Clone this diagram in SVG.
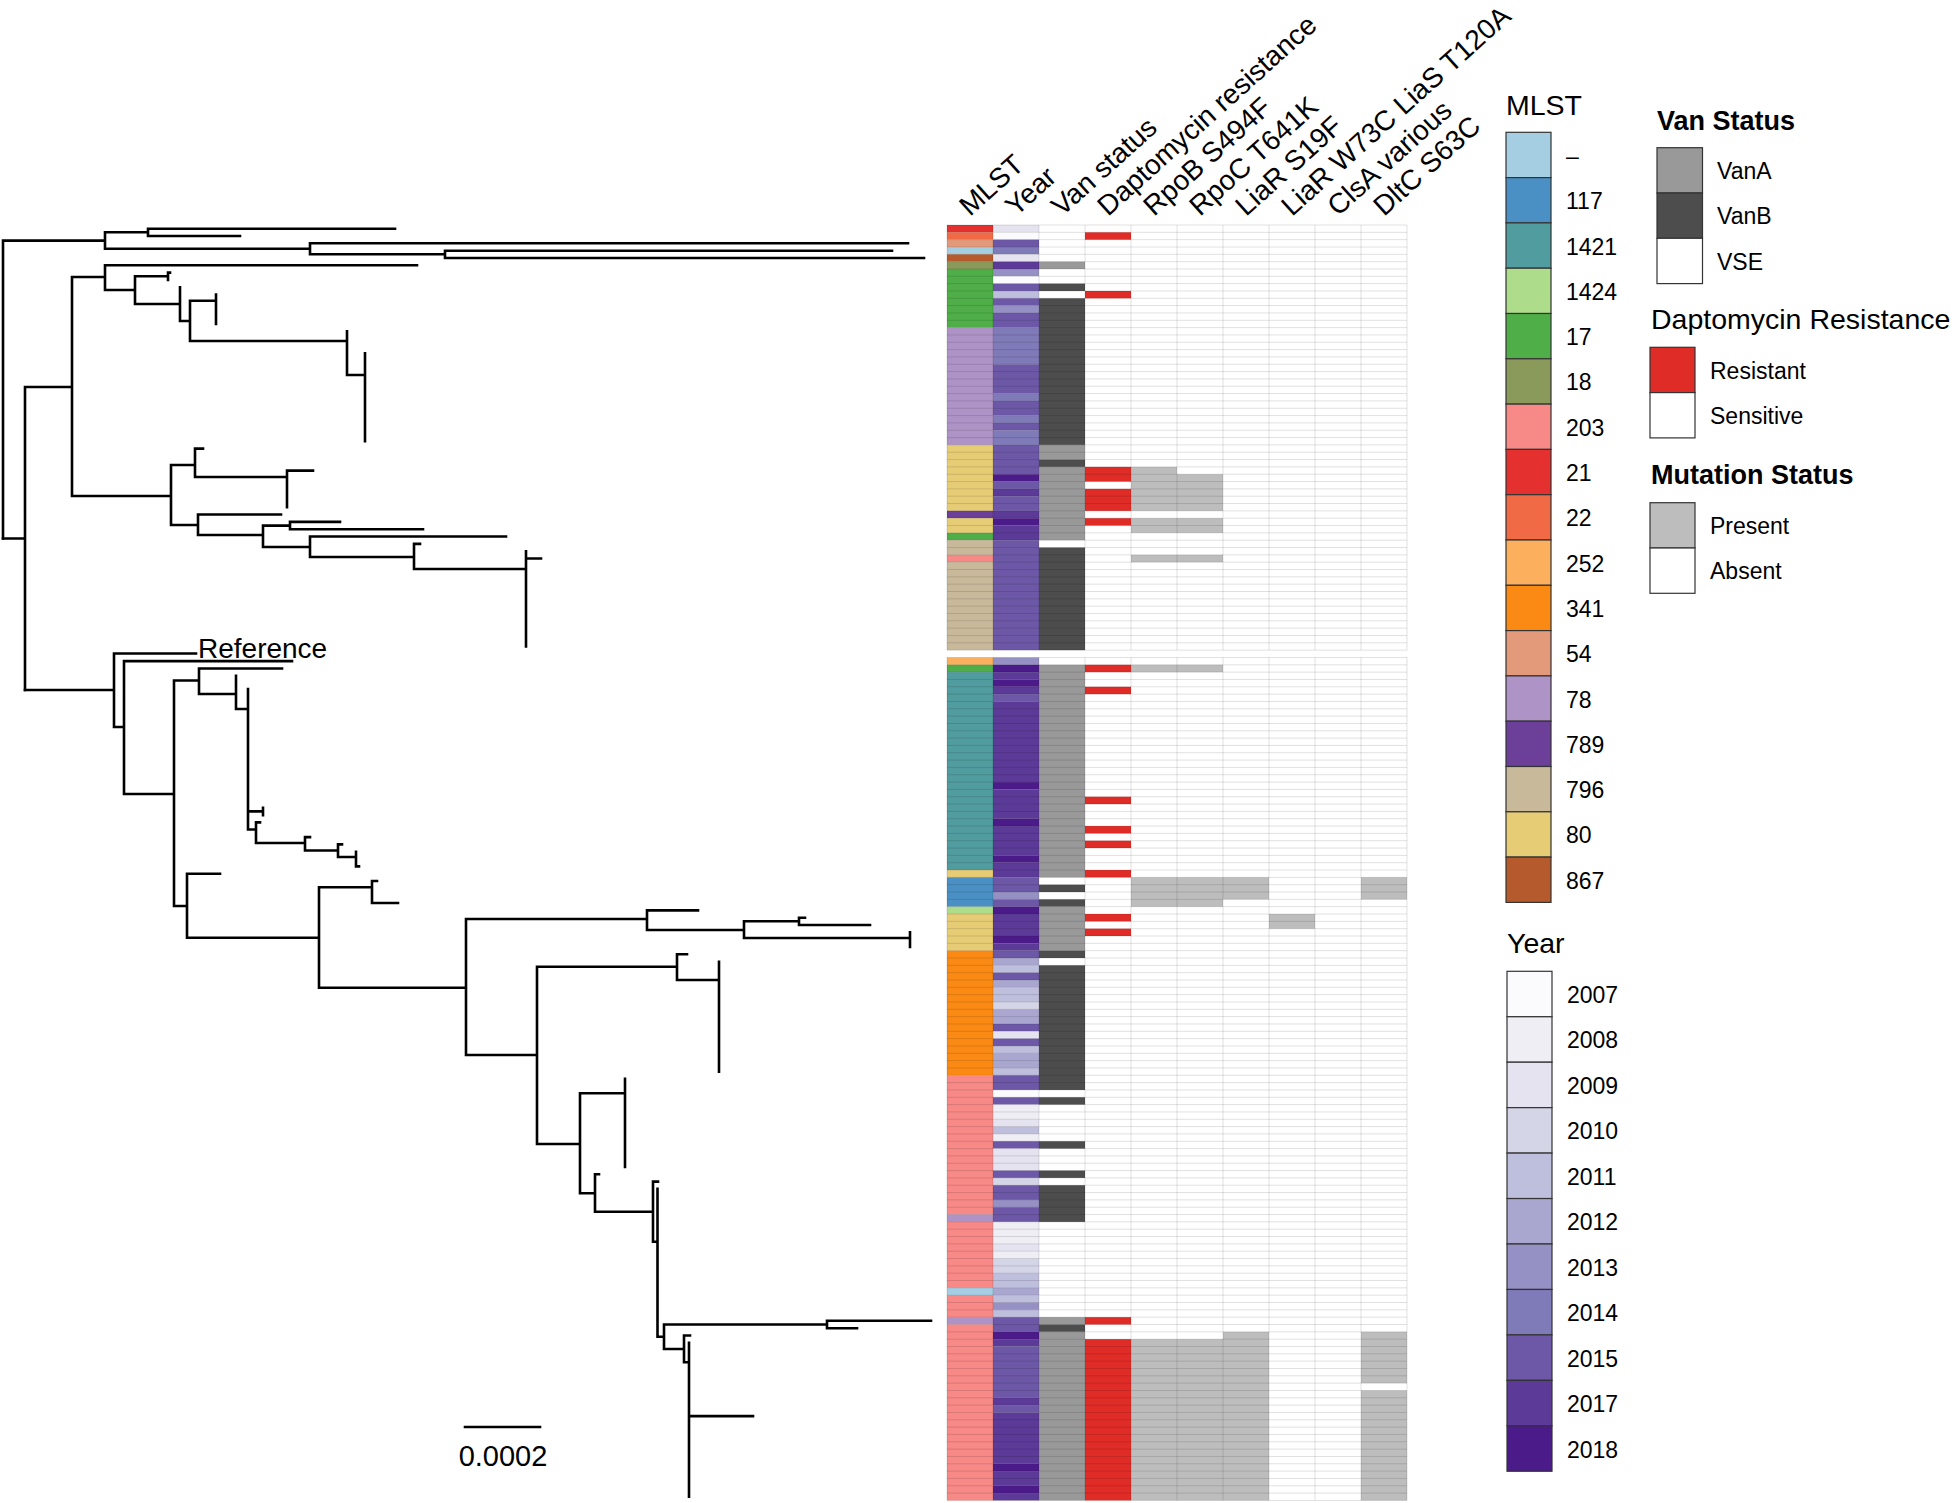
<svg xmlns="http://www.w3.org/2000/svg" width="1955" height="1503" viewBox="0 0 1955 1503">
<style>
text{font-family:"Liberation Sans",Arial,sans-serif;fill:#000}
.hdr{font-size:28px}
.lt{font-size:28.5px}
.ltb{font-size:27px;font-weight:bold}
.ll{font-size:23px}
.tree{fill:none;stroke:#000;stroke-width:2.6;stroke-linecap:square}
.grid{fill:none;stroke:#000;stroke-opacity:.12;stroke-width:1}
.lb{stroke:#333;stroke-width:1.2}
.mdash{fill:#A6CEE3}.m117{fill:#4A90C4}.m1421{fill:#519C9F}.m1424{fill:#ADDC8B}.m17{fill:#4FAE48}.m18{fill:#899A5A}.m203{fill:#F78987}.m21{fill:#E4302F}.m22{fill:#EF6A45}.m252{fill:#FCB05E}.m341{fill:#FB8A15}.m54{fill:#E39A7A}.m78{fill:#AE93C7}.m789{fill:#6C3F99}.m796{fill:#C9B99B}.m80{fill:#E7CC76}.m867{fill:#B45A2C}
.y07{fill:#FBFBFD}.y08{fill:#EFEEF5}.y09{fill:#E4E3EF}.y10{fill:#D5D5E8}.y11{fill:#BEBEDD}.y12{fill:#A9A7CF}.y13{fill:#9591C4}.y14{fill:#7F7AB8}.y15{fill:#6C58A7}.y17{fill:#5C3A98}.y18{fill:#4C1B8A}
.vA{fill:#999999}.vB{fill:#4D4D4D}.vS{fill:#FFFFFF}.dR{fill:#DF2C27}.mu{fill:#BDBDBD}
</style>
<rect x="0" y="0" width="1955" height="1503" fill="#fff"/>

<g id="tree" class="tree">
<path d="M3 240.6V538.5M3 240.6H105M105 232.3V248.8M105 232.3H148M148 228.7V236M148 228.7H395M148 236H240M105 248.8H310M310 243.3V254.3M310 243.3H908M310 254.3H445M445 250.7V258M445 250.7H892M445 258H924"/>
<path d="M3 538.5H25M25 387V690M25 387H72M72 277V496M72 277H105M105 265.3V290M105 265.3H417M105 290H135M135 276.3V304M135 276.3H168M168 272.6V280M168 272.6H170M135 304H180M180 287.3V321M180 321H190M190 300.7V341M190 300.7H216M216 294.6V324M190 341H347M347 331.3V375M347 375H365M365 353.3V441.2M72 496H171M171 465V525M171 465H195M195 448.6V477M195 448.6H203M195 477H287M287 470.6V507.2M287 470.6H313M171 525H198M198 514.5V535M198 514.5H281M198 535H263M263 525.6V547M263 525.6H290M290 521.9V529.2M290 521.9H340M290 529.2H423M263 547H310M310 536.5V557M310 536.5H506M310 557H414M414 543.9V569M414 543.9H420M414 569H526M526 551.2V646.5M526 558.5H541"/>
<path d="M25 690H114M114 653.5V727M114 653.5H196M114 727H124M124 661.1V794M124 661.1H292M124 794H174M174 680.5V906M174 680.5H199M199 668.5V694M199 668.5H282M199 694H236M236 675.8V709M236 709H248M248 689V829.5M248 811.4H263M263 807.7V815.1M248 829.5H256M256 822.4V843M256 822.4H260M256 843H305M305 837.1V850.5M305 837.1H310M305 850.5H338M338 844.4V857M338 844.4H342M338 857H356M356 851.7V866.4M356 866.4H359M174 906H187M187 873.7V937.7M187 873.7H220M187 937.7H319M319 887.3V987.7M319 887.3H372M372 881V903M372 881H377M372 903H398M319 987.7H466M466 919V1055M466 919H647M647 910.4V930M647 910.4H698M647 930H744M744 921.3V938M744 921.3H799M799 917.7V925M799 917.7H805M799 925H870M744 938H910M910 932.3V947M466 1055H537M537 966.7V1144M537 966.7H677M677 954.3V980M677 954.3H687M677 980H719M719 961.7V1071.6M537 1144H580M580 1093.3V1193.3M580 1093.3H625M625 1078.9V1166.9M580 1193.3H595M595 1174.2V1211.7M595 1174.2H599M595 1211.7H653M653 1181.6V1241.7M653 1181.6H658M653 1241.7H657.5M657.5 1188.9V1336.7M657.5 1336.7H664M664 1324.5V1349M664 1324.5H827M827 1320.8V1328.2M827 1320.8H931M827 1328.2H857M664 1349H684M684 1335.5V1362.3M684 1335.5H690M684 1362.3H689M689 1342.8V1496.8M689 1416.1H753"/>
</g>
<g id="tip-reference"><text x="198" y="658" style="font-size:28px">Reference</text></g>
<g id="scale-bar"><path d="M465 1427H540" class="tree"/><text x="503" y="1466" text-anchor="middle" style="font-size:29px">0.0002</text></g>

<g id="heatmap">
<g transform="translate(947,225) scale(1,7.33)">
<rect class="m21" x="0" y="0" width="46" height="1"/><rect class="m22" x="0" y="1" width="46" height="1"/><rect class="m54" x="0" y="2" width="46" height="1"/><rect class="mdash" x="0" y="3" width="46" height="1"/><rect class="m867" x="0" y="4" width="46" height="1"/><rect class="m18" x="0" y="5" width="46" height="1"/><rect class="m17" x="0" y="6" width="46" height="8"/><rect class="m78" x="0" y="14" width="46" height="16"/><rect class="m80" x="0" y="30" width="46" height="9"/><rect class="m789" x="0" y="39" width="46" height="1"/><rect class="m80" x="0" y="40" width="46" height="2"/><rect class="m17" x="0" y="42" width="46" height="1"/><rect class="m796" x="0" y="43" width="46" height="2"/><rect class="m203" x="0" y="45" width="46" height="1"/><rect class="m796" x="0" y="46" width="46" height="12"/>
<rect class="y09" x="46" y="0" width="46" height="1"/><rect class="y07" x="46" y="1" width="46" height="1"/><rect class="y15" x="46" y="2" width="46" height="1"/><rect class="y14" x="46" y="3" width="46" height="1"/><rect class="y09" x="46" y="4" width="46" height="1"/><rect class="y17" x="46" y="5" width="46" height="1"/><rect class="y13" x="46" y="6" width="46" height="1"/><rect class="y07" x="46" y="7" width="46" height="1"/><rect class="y15" x="46" y="8" width="46" height="1"/><rect class="y11" x="46" y="9" width="46" height="1"/><rect class="y15" x="46" y="10" width="46" height="1"/><rect class="y13" x="46" y="11" width="46" height="1"/><rect class="y15" x="46" y="12" width="46" height="2"/><rect class="y14" x="46" y="14" width="46" height="5"/><rect class="y15" x="46" y="19" width="46" height="4"/><rect class="y14" x="46" y="23" width="46" height="1"/><rect class="y15" x="46" y="24" width="46" height="2"/><rect class="y14" x="46" y="26" width="46" height="1"/><rect class="y15" x="46" y="27" width="46" height="1"/><rect class="y14" x="46" y="28" width="46" height="2"/><rect class="y15" x="46" y="30" width="46" height="4"/><rect class="y18" x="46" y="34" width="46" height="1"/><rect class="y15" x="46" y="35" width="46" height="1"/><rect class="y17" x="46" y="36" width="46" height="1"/><rect class="y15" x="46" y="37" width="46" height="2"/><rect class="y17" x="46" y="39" width="46" height="1"/><rect class="y18" x="46" y="40" width="46" height="1"/><rect class="y17" x="46" y="41" width="46" height="2"/><rect class="y15" x="46" y="43" width="46" height="15"/>
<rect class="vA" x="92" y="5" width="46" height="1"/><rect class="vB" x="92" y="8" width="46" height="1"/><rect class="vB" x="92" y="10" width="46" height="20"/><rect class="vA" x="92" y="30" width="46" height="2"/><rect class="vB" x="92" y="32" width="46" height="1"/><rect class="vA" x="92" y="33" width="46" height="10"/><rect class="vB" x="92" y="44" width="46" height="14"/>
<rect class="dR" x="138" y="1" width="46" height="1"/><rect class="dR" x="138" y="9" width="46" height="1"/><rect class="dR" x="138" y="33" width="46" height="2"/><rect class="dR" x="138" y="36" width="46" height="3"/><rect class="dR" x="138" y="40" width="46" height="1"/>
<rect class="mu" x="184" y="33" width="46" height="6"/><rect class="mu" x="184" y="40" width="46" height="2"/><rect class="mu" x="184" y="45" width="46" height="1"/>
<rect class="mu" x="230" y="34" width="46" height="5"/><rect class="mu" x="230" y="40" width="46" height="2"/><rect class="mu" x="230" y="45" width="46" height="1"/>
</g>
<g transform="translate(947,657.47) scale(1,7.33)">
<rect class="m252" x="0" y="0" width="46" height="1"/><rect class="m17" x="0" y="1" width="46" height="1"/><rect class="m1421" x="0" y="2" width="46" height="27"/><rect class="m80" x="0" y="29" width="46" height="1"/><rect class="m117" x="0" y="30" width="46" height="4"/><rect class="m1424" x="0" y="34" width="46" height="1"/><rect class="m80" x="0" y="35" width="46" height="5"/><rect class="m341" x="0" y="40" width="46" height="17"/><rect class="m203" x="0" y="57" width="46" height="19"/><rect class="m78" x="0" y="76" width="46" height="1"/><rect class="m203" x="0" y="77" width="46" height="9"/><rect class="mdash" x="0" y="86" width="46" height="1"/><rect class="m203" x="0" y="87" width="46" height="3"/><rect class="m78" x="0" y="90" width="46" height="1"/><rect class="m203" x="0" y="91" width="46" height="24"/>
<rect class="y13" x="46" y="0" width="46" height="1"/><rect class="y18" x="46" y="1" width="46" height="1"/><rect class="y17" x="46" y="2" width="46" height="1"/><rect class="y18" x="46" y="3" width="46" height="1"/><rect class="y17" x="46" y="4" width="46" height="1"/><rect class="y15" x="46" y="5" width="46" height="1"/><rect class="y17" x="46" y="6" width="46" height="11"/><rect class="y18" x="46" y="17" width="46" height="1"/><rect class="y17" x="46" y="18" width="46" height="4"/><rect class="y18" x="46" y="22" width="46" height="1"/><rect class="y17" x="46" y="23" width="46" height="4"/><rect class="y18" x="46" y="27" width="46" height="1"/><rect class="y17" x="46" y="28" width="46" height="2"/><rect class="y15" x="46" y="30" width="46" height="2"/><rect class="y13" x="46" y="32" width="46" height="1"/><rect class="y15" x="46" y="33" width="46" height="1"/><rect class="y18" x="46" y="34" width="46" height="1"/><rect class="y17" x="46" y="35" width="46" height="3"/><rect class="y18" x="46" y="38" width="46" height="1"/><rect class="y17" x="46" y="39" width="46" height="1"/><rect class="y15" x="46" y="40" width="46" height="1"/><rect class="y12" x="46" y="41" width="46" height="1"/><rect class="y11" x="46" y="42" width="46" height="1"/><rect class="y15" x="46" y="43" width="46" height="1"/><rect class="y12" x="46" y="44" width="46" height="1"/><rect class="y11" x="46" y="45" width="46" height="2"/><rect class="y10" x="46" y="47" width="46" height="1"/><rect class="y12" x="46" y="48" width="46" height="2"/><rect class="y15" x="46" y="50" width="46" height="1"/><rect class="y09" x="46" y="51" width="46" height="1"/><rect class="y15" x="46" y="52" width="46" height="1"/><rect class="y11" x="46" y="53" width="46" height="1"/><rect class="y12" x="46" y="54" width="46" height="2"/><rect class="y11" x="46" y="56" width="46" height="1"/><rect class="y15" x="46" y="57" width="46" height="2"/><rect class="y07" x="46" y="59" width="46" height="1"/><rect class="y15" x="46" y="60" width="46" height="1"/><rect class="y08" x="46" y="61" width="46" height="2"/><rect class="y09" x="46" y="63" width="46" height="1"/><rect class="y11" x="46" y="64" width="46" height="1"/><rect class="y08" x="46" y="65" width="46" height="1"/><rect class="y15" x="46" y="66" width="46" height="1"/><rect class="y09" x="46" y="67" width="46" height="3"/><rect class="y15" x="46" y="70" width="46" height="1"/><rect class="y10" x="46" y="71" width="46" height="1"/><rect class="y15" x="46" y="72" width="46" height="2"/><rect class="y13" x="46" y="74" width="46" height="1"/><rect class="y15" x="46" y="75" width="46" height="2"/><rect class="y08" x="46" y="77" width="46" height="3"/><rect class="y09" x="46" y="80" width="46" height="1"/><rect class="y08" x="46" y="81" width="46" height="1"/><rect class="y10" x="46" y="82" width="46" height="2"/><rect class="y11" x="46" y="84" width="46" height="2"/><rect class="y12" x="46" y="86" width="46" height="1"/><rect class="y11" x="46" y="87" width="46" height="1"/><rect class="y13" x="46" y="88" width="46" height="1"/><rect class="y11" x="46" y="89" width="46" height="1"/><rect class="y15" x="46" y="90" width="46" height="2"/><rect class="y18" x="46" y="92" width="46" height="1"/><rect class="y17" x="46" y="93" width="46" height="1"/><rect class="y15" x="46" y="94" width="46" height="7"/><rect class="y17" x="46" y="101" width="46" height="1"/><rect class="y15" x="46" y="102" width="46" height="1"/><rect class="y17" x="46" y="103" width="46" height="7"/><rect class="y18" x="46" y="110" width="46" height="1"/><rect class="y17" x="46" y="111" width="46" height="2"/><rect class="y18" x="46" y="113" width="46" height="1"/><rect class="y17" x="46" y="114" width="46" height="1"/>
<rect class="vA" x="92" y="1" width="46" height="29"/><rect class="vB" x="92" y="31" width="46" height="1"/><rect class="vB" x="92" y="33" width="46" height="1"/><rect class="vA" x="92" y="34" width="46" height="6"/><rect class="vB" x="92" y="40" width="46" height="1"/><rect class="vB" x="92" y="42" width="46" height="17"/><rect class="vB" x="92" y="60" width="46" height="1"/><rect class="vB" x="92" y="66" width="46" height="1"/><rect class="vB" x="92" y="70" width="46" height="1"/><rect class="vB" x="92" y="72" width="46" height="5"/><rect class="vA" x="92" y="90" width="46" height="1"/><rect class="vB" x="92" y="91" width="46" height="1"/><rect class="vA" x="92" y="92" width="46" height="23"/>
<rect class="dR" x="138" y="1" width="46" height="1"/><rect class="dR" x="138" y="4" width="46" height="1"/><rect class="dR" x="138" y="19" width="46" height="1"/><rect class="dR" x="138" y="23" width="46" height="1"/><rect class="dR" x="138" y="25" width="46" height="1"/><rect class="dR" x="138" y="29" width="46" height="1"/><rect class="dR" x="138" y="35" width="46" height="1"/><rect class="dR" x="138" y="37" width="46" height="1"/><rect class="dR" x="138" y="90" width="46" height="1"/><rect class="dR" x="138" y="93" width="46" height="22"/>
<rect class="mu" x="184" y="1" width="46" height="1"/><rect class="mu" x="184" y="30" width="46" height="4"/><rect class="mu" x="184" y="93" width="46" height="22"/>
<rect class="mu" x="230" y="1" width="46" height="1"/><rect class="mu" x="230" y="30" width="46" height="4"/><rect class="mu" x="230" y="93" width="46" height="22"/>
<rect class="mu" x="276" y="30" width="46" height="3"/><rect class="mu" x="276" y="92" width="46" height="23"/>
<rect class="mu" x="322" y="35" width="46" height="2"/>
<rect class="mu" x="414" y="30" width="46" height="3"/><rect class="mu" x="414" y="92" width="46" height="7"/><rect class="mu" x="414" y="100" width="46" height="15"/>
</g>
<path class="grid" d="M947 225h460M947 232.33h460M947 239.66h460M947 246.99h460M947 254.32h460M947 261.65h460M947 268.98h460M947 276.31h460M947 283.64h460M947 290.97h460M947 298.3h460M947 305.63h460M947 312.96h460M947 320.29h460M947 327.62h460M947 334.95h460M947 342.28h460M947 349.61h460M947 356.94h460M947 364.27h460M947 371.6h460M947 378.93h460M947 386.26h460M947 393.59h460M947 400.92h460M947 408.25h460M947 415.58h460M947 422.91h460M947 430.24h460M947 437.57h460M947 444.9h460M947 452.23h460M947 459.56h460M947 466.89h460M947 474.22h460M947 481.55h460M947 488.88h460M947 496.21h460M947 503.54h460M947 510.87h460M947 518.2h460M947 525.53h460M947 532.86h460M947 540.19h460M947 547.52h460M947 554.85h460M947 562.18h460M947 569.51h460M947 576.84h460M947 584.17h460M947 591.5h460M947 598.83h460M947 606.16h460M947 613.49h460M947 620.82h460M947 628.15h460M947 635.48h460M947 642.81h460M947 650.14h460"/>
<path class="grid" d="M947 657.47h460M947 664.8h460M947 672.13h460M947 679.46h460M947 686.79h460M947 694.12h460M947 701.45h460M947 708.78h460M947 716.11h460M947 723.44h460M947 730.77h460M947 738.1h460M947 745.43h460M947 752.76h460M947 760.09h460M947 767.42h460M947 774.75h460M947 782.08h460M947 789.41h460M947 796.74h460M947 804.07h460M947 811.4h460M947 818.73h460M947 826.06h460M947 833.39h460M947 840.72h460M947 848.05h460M947 855.38h460M947 862.71h460M947 870.04h460M947 877.37h460M947 884.7h460M947 892.03h460M947 899.36h460M947 906.69h460M947 914.02h460M947 921.35h460M947 928.68h460M947 936.01h460M947 943.34h460M947 950.67h460M947 958h460M947 965.33h460M947 972.66h460M947 979.99h460M947 987.32h460M947 994.65h460M947 1001.98h460M947 1009.31h460M947 1016.64h460M947 1023.97h460M947 1031.3h460M947 1038.63h460M947 1045.96h460M947 1053.29h460M947 1060.62h460M947 1067.95h460M947 1075.28h460M947 1082.61h460M947 1089.94h460M947 1097.27h460M947 1104.6h460M947 1111.93h460M947 1119.26h460M947 1126.59h460M947 1133.92h460M947 1141.25h460M947 1148.58h460M947 1155.91h460M947 1163.24h460M947 1170.57h460M947 1177.9h460M947 1185.23h460M947 1192.56h460M947 1199.89h460M947 1207.22h460M947 1214.55h460M947 1221.88h460M947 1229.21h460M947 1236.54h460M947 1243.87h460M947 1251.2h460M947 1258.53h460M947 1265.86h460M947 1273.19h460M947 1280.52h460M947 1287.85h460M947 1295.18h460M947 1302.51h460M947 1309.84h460M947 1317.17h460M947 1324.5h460M947 1331.83h460M947 1339.16h460M947 1346.49h460M947 1353.82h460M947 1361.15h460M947 1368.48h460M947 1375.81h460M947 1383.14h460M947 1390.47h460M947 1397.8h460M947 1405.13h460M947 1412.46h460M947 1419.79h460M947 1427.12h460M947 1434.45h460M947 1441.78h460M947 1449.11h460M947 1456.44h460M947 1463.77h460M947 1471.1h460M947 1478.43h460M947 1485.76h460M947 1493.09h460M947 1500.42h460"/>
<path class="grid" d="M947 225V650.14M993 225V650.14M1039 225V650.14M1085 225V650.14M1131 225V650.14M1177 225V650.14M1223 225V650.14M1269 225V650.14M1315 225V650.14M1361 225V650.14M1407 225V650.14M947 657.47V1500.42M993 657.47V1500.42M1039 657.47V1500.42M1085 657.47V1500.42M1131 657.47V1500.42M1177 657.47V1500.42M1223 657.47V1500.42M1269 657.47V1500.42M1315 657.47V1500.42M1361 657.47V1500.42M1407 657.47V1500.42"/>
</g>

<g id="headers" class="hdr">
<text transform="translate(970,217) rotate(-42)">MLST</text>
<text transform="translate(1016,217) rotate(-42)">Year</text>
<text transform="translate(1062,217) rotate(-42)">Van status</text>
<text transform="translate(1108,217) rotate(-42)">Daptomycin resistance</text>
<text transform="translate(1154,217) rotate(-42)">RpoB S494F</text>
<text transform="translate(1200,217) rotate(-42)">RpoC T641K</text>
<text transform="translate(1246,217) rotate(-42)">LiaR S19F</text>
<text transform="translate(1292,217) rotate(-42)">LiaR W73C LiaS T120A</text>
<text transform="translate(1338,217) rotate(-42)">ClsA various</text>
<text transform="translate(1384,217) rotate(-42)">DltC S63C</text>
</g>

<g id="legend-mlst">
<text class="lt" x="1506" y="115">MLST</text>
<g class="lb">
<rect class="mdash" x="1506" y="132.3" width="45" height="45.3"/><rect class="m117" x="1506" y="177.6" width="45" height="45.3"/><rect class="m1421" x="1506" y="222.9" width="45" height="45.3"/><rect class="m1424" x="1506" y="268.2" width="45" height="45.3"/><rect class="m17" x="1506" y="313.5" width="45" height="45.3"/><rect class="m18" x="1506" y="358.8" width="45" height="45.3"/><rect class="m203" x="1506" y="404.1" width="45" height="45.3"/><rect class="m21" x="1506" y="449.4" width="45" height="45.3"/><rect class="m22" x="1506" y="494.7" width="45" height="45.3"/><rect class="m252" x="1506" y="540" width="45" height="45.3"/><rect class="m341" x="1506" y="585.3" width="45" height="45.3"/><rect class="m54" x="1506" y="630.6" width="45" height="45.3"/><rect class="m78" x="1506" y="675.9" width="45" height="45.3"/><rect class="m789" x="1506" y="721.2" width="45" height="45.3"/><rect class="m796" x="1506" y="766.5" width="45" height="45.3"/><rect class="m80" x="1506" y="811.8" width="45" height="45.3"/><rect class="m867" x="1506" y="857.1" width="45" height="45.3"/>
</g>
<g class="ll">
<text x="1566" y="163.9">–</text><text x="1566" y="209.2">117</text><text x="1566" y="254.5">1421</text><text x="1566" y="299.8">1424</text><text x="1566" y="345.1">17</text><text x="1566" y="390.4">18</text><text x="1566" y="435.7">203</text><text x="1566" y="481">21</text><text x="1566" y="526.3">22</text><text x="1566" y="571.6">252</text><text x="1566" y="616.9">341</text><text x="1566" y="662.2">54</text><text x="1566" y="707.5">78</text><text x="1566" y="752.8">789</text><text x="1566" y="798.1">796</text><text x="1566" y="843.4">80</text><text x="1566" y="888.7">867</text>
</g>
</g>

<g id="legend-van">
<text class="ltb" x="1657" y="130">Van Status</text>
<g class="lb"><rect class="vA" x="1657" y="147.7" width="45.5" height="45.3"/><rect class="vB" x="1657" y="193" width="45.5" height="45.3"/><rect class="vS" x="1657" y="238.3" width="45.5" height="45.3"/></g>
<g class="ll"><text x="1717" y="179">VanA</text><text x="1717" y="224.3">VanB</text><text x="1717" y="269.6">VSE</text></g>
</g>

<g id="legend-dapto">
<text class="lt" x="1651" y="329">Daptomycin Resistance</text>
<g class="lb"><rect class="dR" x="1650" y="347.3" width="45" height="45.3"/><rect class="vS" x="1650" y="392.6" width="45" height="45.3"/></g>
<g class="ll"><text x="1710" y="378.5">Resistant</text><text x="1710" y="423.8">Sensitive</text></g>
</g>

<g id="legend-mutation">
<text class="ltb" x="1651" y="484">Mutation Status</text>
<g class="lb"><rect class="mu" x="1650" y="502.7" width="45" height="45.3"/><rect class="vS" x="1650" y="548" width="45" height="45.3"/></g>
<g class="ll"><text x="1710" y="534">Present</text><text x="1710" y="579.3">Absent</text></g>
</g>

<g id="legend-year">
<text class="lt" x="1507" y="953">Year</text>
<g class="lb">
<rect class="y07" x="1507" y="971.3" width="45" height="45.45"/><rect class="y08" x="1507" y="1016.75" width="45" height="45.45"/><rect class="y09" x="1507" y="1062.2" width="45" height="45.45"/><rect class="y10" x="1507" y="1107.65" width="45" height="45.45"/><rect class="y11" x="1507" y="1153.1" width="45" height="45.45"/><rect class="y12" x="1507" y="1198.55" width="45" height="45.45"/><rect class="y13" x="1507" y="1244" width="45" height="45.45"/><rect class="y14" x="1507" y="1289.45" width="45" height="45.45"/><rect class="y15" x="1507" y="1334.9" width="45" height="45.45"/><rect class="y17" x="1507" y="1380.35" width="45" height="45.45"/><rect class="y18" x="1507" y="1425.8" width="45" height="45.45"/>
</g>
<g class="ll">
<text x="1567" y="1003">2007</text><text x="1567" y="1048.45">2008</text><text x="1567" y="1093.9">2009</text><text x="1567" y="1139.35">2010</text><text x="1567" y="1184.8">2011</text><text x="1567" y="1230.25">2012</text><text x="1567" y="1275.7">2013</text><text x="1567" y="1321.15">2014</text><text x="1567" y="1366.6">2015</text><text x="1567" y="1412.05">2017</text><text x="1567" y="1457.5">2018</text>
</g>
</g>
</svg>
